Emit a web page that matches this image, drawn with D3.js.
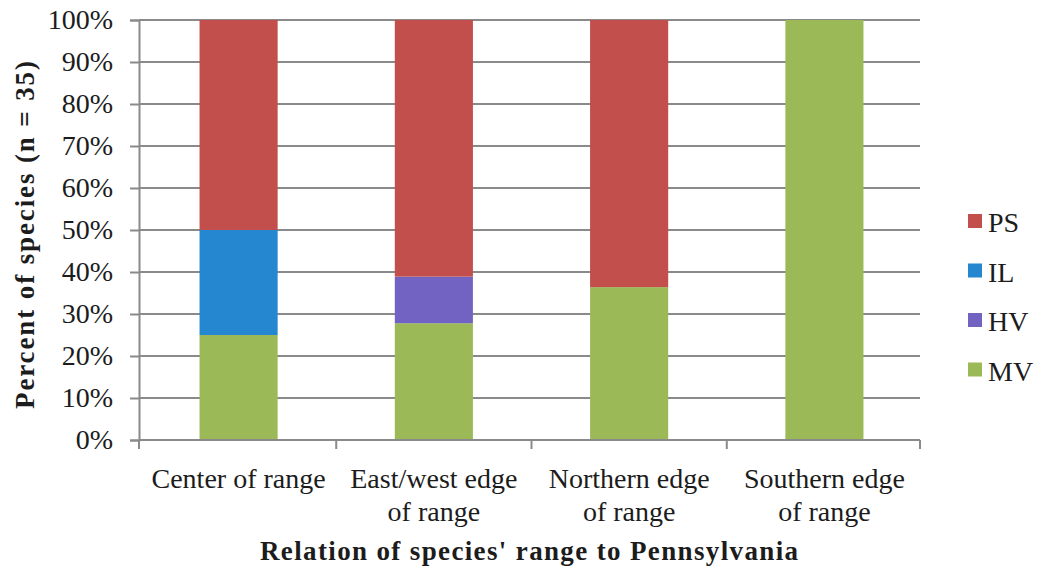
<!DOCTYPE html>
<html>
<head>
<meta charset="utf-8">
<script src="https://cdn.jsdelivr.net/npm/d3@7/dist/d3.min.js"></script>
<style>
  html, body { margin: 0; padding: 0; background: #fff; }
</style>
</head>
<body>
<svg id="chart" width="1044" height="568"></svg>
<script>
// Range categories (each label split over lines)
const categories = ["Center of range", "East/west edge of range", "Northern edge of range", "Southern edge of range"];
const categoryLines = [["Center of range"], ["East/west edge", "of range"], ["Northern edge", "of range"], ["Southern edge", "of range"]];

// Series, stacked bottom to top (percent of species)
const seriesNames = ["MV", "HV", "IL", "PS"];
const mvValues = [25.0, 27.8, 36.4, 100.0];
const hvValues = [0, 11.1, 0, 0];
const ilValues = [25.0, 0, 0, 0];
const psValues = [50.0, 61.1, 63.6, 0];

const yTicks = [0, 10, 20, 30, 40, 50, 60, 70, 80, 90, 100];
const legendOrder = ["PS", "IL", "HV", "MV"];

const colors = { PS: "#c24f4c", IL: "#2587d0", HV: "#7263c2", MV: "#9bba57" };

const rows = categories.map((c, i) => ({
  category: c, MV: mvValues[i], HV: hvValues[i], IL: ilValues[i], PS: psValues[i]
}));

// Pick the first available serif face by comparing measured widths with monospace
const fontCandidates = ["Liberation Serif", "Tinos", "Times New Roman", "Noto Serif", "serif"];
function pickFont() {
  const ctx = document.createElement("canvas").getContext("2d");
  const sample = "Center of range 100%";
  ctx.font = `26px monospace`;
  const mono = ctx.measureText(sample).width;
  for (const f of fontCandidates) {
    ctx.font = `26px "${f}"`;
    if (Math.abs(ctx.measureText(sample).width - mono) > 1) return f;
  }
  return "serif";
}
const FONT = `"${pickFont()}"`;

const svg = d3.select("#chart");
const plotLeft = 139, plotRight = 920, plotTop = 20, plotBottom = 440;

const x = d3.scaleBand().domain(categories).range([plotLeft, plotRight + 4]).paddingInner(0.6).paddingOuter(0.31);
const y = d3.scaleLinear().domain([0, 100]).range([plotBottom, plotTop]);

const gridColor = "#8a8a8a";
const textColor = "#1c1c1c";

// Horizontal gridlines
svg.append("g").selectAll("line").data(yTicks).join("line")
  .attr("x1", plotLeft).attr("x2", plotRight)
  .attr("y1", d => y(d)).attr("y2", d => y(d))
  .attr("stroke", gridColor).attr("stroke-width", 2);

// Stacked bars
const stacked = d3.stack().keys(seriesNames)(rows);
svg.append("g").selectAll("g").data(stacked).join("g")
  .attr("fill", d => colors[d.key])
  .selectAll("rect").data(d => d).join("rect")
  .attr("x", d => x(d.data.category))
  .attr("width", x.bandwidth())
  .attr("y", d => y(d[1]))
  .attr("height", d => y(d[0]) - y(d[1]));

// Y axis
const yAxis = d3.axisLeft(y).tickValues(yTicks).tickFormat(d => d + "%").tickSize(9).tickPadding(17);
const gy = svg.append("g").attr("transform", `translate(${plotLeft},0)`).call(yAxis);
gy.attr("font-family", null).attr("font-size", null);
gy.select(".domain").attr("stroke", gridColor).attr("stroke-width", 2);
gy.selectAll(".tick line").attr("stroke", gridColor).attr("stroke-width", 2);
gy.selectAll(".tick text").attr("fill", textColor)
  .style("font-family", FONT).style("font-size", "28px");

// X axis baseline with ticks between categories
const gx = svg.append("g");
gx.append("line").attr("x1", plotLeft).attr("x2", plotRight).attr("y1", plotBottom).attr("y2", plotBottom)
  .attr("stroke", gridColor).attr("stroke-width", 2);
const gap = x.step() * x.paddingInner();
const boundaries = [plotLeft].concat(categories.map((c, i) =>
  i < categories.length - 1 ? x(c) + x.bandwidth() + gap / 2 : plotRight));
gx.selectAll("line.tk").data(boundaries).join("line").attr("class", "tk")
  .attr("x1", d => d).attr("x2", d => d)
  .attr("y1", plotBottom).attr("y2", plotBottom + 9)
  .attr("stroke", gridColor).attr("stroke-width", 2);

// Category labels
const labels = svg.append("g").selectAll("text").data(categories).join("text")
  .attr("x", d => x(d) + x.bandwidth() / 2)
  .attr("y", 488)
  .attr("text-anchor", "middle")
  .attr("fill", textColor)
  .style("font-family", FONT)
  .style("font-size", "28px");
labels.selectAll("tspan").data((d, i) => categoryLines[i]).join("tspan")
  .attr("x", function() { return this.parentNode.getAttribute("x"); })
  .attr("dy", (d, i) => i === 0 ? 0 : 33)
  .text(d => d);

// Axis titles
svg.append("text")
  .attr("x", 529).attr("y", 560)
  .attr("text-anchor", "middle")
  .attr("fill", textColor)
  .attr("textLength", 538).attr("lengthAdjust", "spacing")
  .style("font-family", FONT)
  .style("font-size", "27px").style("font-weight", "bold")
  .text("Relation of species' range to Pennsylvania");

svg.append("text")
  .attr("transform", `translate(34,235) rotate(-90)`)
  .attr("text-anchor", "middle")
  .attr("fill", textColor)
  .attr("textLength", 348).attr("lengthAdjust", "spacing")
  .style("font-family", FONT)
  .style("font-size", "27px").style("font-weight", "bold")
  .text("Percent of species (n = 35)");

// Legend
const legend = svg.append("g").selectAll("g").data(legendOrder).join("g")
  .attr("transform", (d, i) => `translate(968,${221 + i * 49.5})`);
legend.append("rect").attr("x", 0).attr("y", -7).attr("width", 14).attr("height", 14)
  .attr("fill", d => colors[d]);
legend.append("text").attr("x", 20).attr("y", 11)
  .attr("fill", textColor)
  .style("font-family", FONT).style("font-size", "28px")
  .text(d => d);
</script>
</body>
</html>
